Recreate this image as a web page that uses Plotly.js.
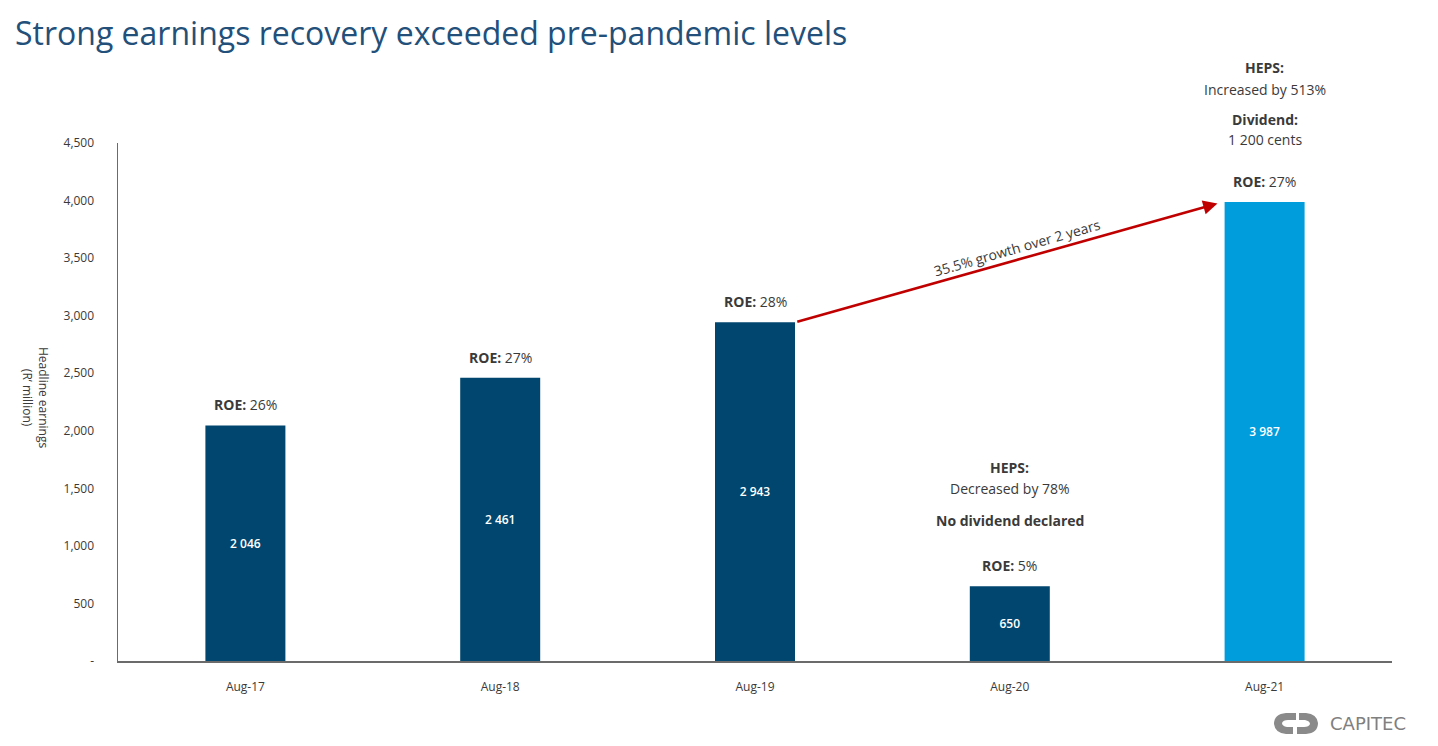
<!DOCTYPE html>
<html>
<head>
<meta charset="utf-8">
<script src="https://cdn.plot.ly/plotly-3.0.1.min.js"></script>
<style>
  html, body { margin: 0; padding: 0; background: #ffffff; }
  #chart { width: 1438px; height: 746px; }
</style>
</head>
<body>
<div id="chart"></div>
<script>
// ---- Data ----
const categories = ["Aug-17", "Aug-18", "Aug-19", "Aug-20", "Aug-21"];
const headlineEarnings = [2046, 2461, 2943, 650, 3987];
const roe = ["26%", "27%", "28%", "5%", "27%"];
const yTickValues = [0, 500, 1000, 1500, 2000, 2500, 3000, 3500, 4000, 4500];
const growthLabel = "35.5% growth over 2 years";
const aug20Notes = ["<b>HEPS:</b>", "Decreased by 78%", "<b>No dividend declared</b>"];
const aug21Notes = ["<b>HEPS:</b>", "Increased by 513%", "<b>Dividend:</b>", "1 200 cents"];

// ---- Helpers ----
const fmtSpace = v => String(v).replace(/\B(?=(\d{3})+(?!\d))/g, " ");
const fmtComma = v => v === 0 ? "-" : String(v).replace(/\B(?=(\d{3})+(?!\d))/g, ",");

const FONT = "Open Sans, Noto Sans, sans-serif";
const TXT = "#3a3a3a";
const DARK = "#00466e";
const LIGHT = "#009ddc";

// pixel -> paper helpers (plot area: x 118..1392, y 143..661)
const px = x => (x - 118) / 1274;
const py = y => 1 - (y - 143) / 518;

const barColors = categories.map((c, i) => i === categories.length - 1 ? LIGHT : DARK);

const trace = {
  type: "bar",
  x: categories,
  y: headlineEarnings,
  marker: { color: barColors, line: { width: 0 } },
  width: 0.314,
  text: headlineEarnings.map(fmtSpace),
  textposition: "inside",
  insidetextanchor: "middle",
  textangle: 0,
  textfont: { family: FONT, size: 12, color: "#ffffff", weight: 600 },
  hoverinfo: "skip"
};

const annotations = [];

// ROE labels above bars
categories.forEach((c, i) => {
  annotations.push({
    x: c, y: headlineEarnings[i], xref: "x", yref: "y",
    text: "<b>ROE:</b> " + roe[i],
    showarrow: false, yanchor: "bottom", yshift: 9,
    font: { family: FONT, size: 14, color: TXT }
  });
});

// Aug-20 notes
const aug20Y = [467, 488, 520];
aug20Notes.forEach((t, k) => {
  annotations.push({
    x: categories[3], xref: "x", yref: "paper",
    y: py(aug20Y[k]),
    text: t, showarrow: false, yanchor: "middle",
    font: { family: FONT, size: 14, color: TXT }
  });
});

// Aug-21 notes
const aug21Y = [68, 89, 119, 140];
aug21Notes.forEach((t, k) => {
  annotations.push({
    x: categories[4], xref: "x", yref: "paper",
    y: py(aug21Y[k]),
    text: t, showarrow: false, yanchor: "middle",
    font: { family: FONT, size: 14, color: TXT }
  });
});

// Growth arrow: from top-right of Aug-19 bar to near the top of Aug-21 bar
annotations.push({
  x: 3.815, y: 3975, xref: "x", yref: "y",
  ax: 2.16, ay: headlineEarnings[2], axref: "x", ayref: "y",
  text: "", showarrow: true,
  arrowhead: 2, arrowsize: 1.1, arrowwidth: 2.6, arrowcolor: "#c00000",
  standoff: 0, startstandoff: 0
});
annotations.push({
  x: 3.03, y: 3590, xref: "x", yref: "y",
  text: growthLabel, showarrow: false, textangle: -16,
  xanchor: "center", yanchor: "middle",
  font: { family: FONT, size: 14, color: TXT }
});

// Y axis title (rotated clockwise)
annotations.push({
  x: px(36), y: py(397), xref: "paper", yref: "paper",
  xanchor: "center", yanchor: "middle",
  text: "Headline earnings<br>(R’ million)",
  showarrow: false, textangle: 90,
  font: { family: FONT, size: 12, color: TXT }
});

// Title
annotations.push({
  x: px(13), y: py(33), xref: "paper", yref: "paper",
  xanchor: "left", yanchor: "middle",
  text: "Strong earnings recovery exceeded pre-pandemic levels",
  showarrow: false,
  font: { family: FONT, size: 32, color: "#22507a" }
});

// Logo text
annotations.push({
  x: px(1328), y: py(723), xref: "paper", yref: "paper",
  xanchor: "left", yanchor: "middle",
  text: "CAPITEC", showarrow: false,
  font: { family: "DejaVu Sans, sans-serif", size: 18, color: "#808080" }
});

// Logo glyph (two rounded halves)
const shapes = [
  {
    type: "path", xref: "paper", yref: "paper", line: { width: 0 }, fillcolor: "#8a8a8a",
    path: `M ${px(1296)} ${py(713)} L ${px(1286)} ${py(713)} Q ${px(1274)} ${py(714)} ${px(1274)} ${py(724)} Q ${px(1275)} ${py(733)} ${px(1286)} ${py(734)} L ${px(1293)} ${py(734)} L ${px(1293)} ${py(727)} L ${px(1287)} ${py(727)} Q ${px(1282)} ${py(726)} ${px(1282)} ${py(723)} Q ${px(1283)} ${py(720)} ${px(1288)} ${py(720)} L ${px(1296)} ${py(720)} Z`
  },
  {
    type: "path", xref: "paper", yref: "paper", line: { width: 0 }, fillcolor: "#8a8a8a",
    path: `M ${px(1297)} ${py(734)} L ${px(1306)} ${py(734)} Q ${px(1318)} ${py(733)} ${px(1318)} ${py(723)} Q ${px(1317)} ${py(714)} ${px(1306)} ${py(713)} L ${px(1299)} ${py(713)} L ${px(1299)} ${py(720)} L ${px(1305)} ${py(720)} Q ${px(1310)} ${py(721)} ${px(1310)} ${py(724)} Q ${px(1309)} ${py(727)} ${px(1304)} ${py(727)} L ${px(1297)} ${py(727)} Z`
  }
];

const layout = {
  width: 1438, height: 746,
  margin: { l: 118, r: 46, t: 143, b: 85, pad: 0 },
  paper_bgcolor: "#ffffff", plot_bgcolor: "#ffffff",
  showlegend: false,
  font: { family: FONT, color: TXT },
  bargap: 0.686,
  xaxis: {
    type: "category",
    range: [-0.5, 4.5],
    showline: true, linecolor: "#6b6b6b", linewidth: 1.5,
    ticks: "", showgrid: false, zeroline: false,
    tickfont: { family: FONT, size: 12, color: TXT },
    ticklabelstandoff: 14
  },
  yaxis: {
    range: [0, 4500],
    tickvals: yTickValues,
    ticktext: yTickValues.map(fmtComma),
    showline: true, linecolor: "#6b6b6b", linewidth: 1.5,
    ticks: "", showgrid: false, zeroline: false,
    tickfont: { family: FONT, size: 12, color: TXT },
    ticklabelstandoff: 20
  },
  annotations: annotations,
  shapes: shapes
};

Plotly.newPlot("chart", [trace], layout, { displayModeBar: false, staticPlot: true });
</script>
</body>
</html>
